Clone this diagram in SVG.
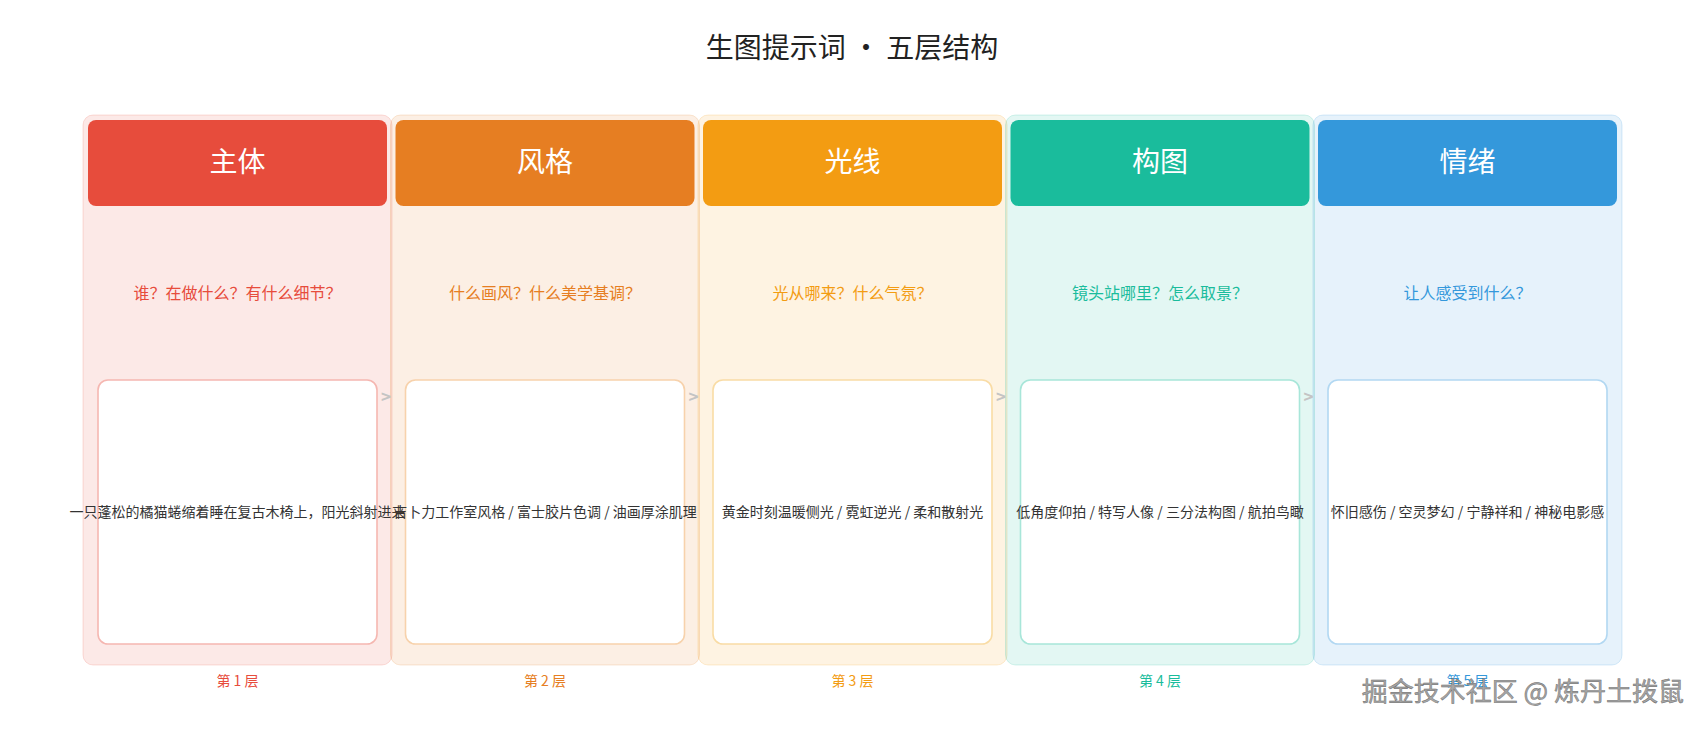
<svg xmlns="http://www.w3.org/2000/svg" width="1705" height="730" viewBox="0 0 1705 730">
<style>
text{font-family:"Noto Sans CJK SC","Noto Sans",sans-serif;text-anchor:middle;}
.title{font-size:28px;fill:#222;}
.head{font-size:28px;fill:#fff;}
.q{font-size:16px;}
.body{font-size:14px;fill:#333;}
.lvl{font-size:14px;}
.arrow{font-size:17px;font-weight:bold;fill:#c4c4c4;}
.box{fill:#fff;stroke-width:1.6;}
.panel{fill-opacity:0.12;stroke-opacity:0.18;stroke-width:1;}
.wm{font-size:26px;fill:#a6a6a6;stroke:#6a6a6a;stroke-width:0.45;text-anchor:end;}
</style>
<rect width="1705" height="730" fill="#fff"/>
<text class="title" x="852" y="58">生图提示词 · 五层结构</text>

<g id="layer1">
<rect class="panel" x="83" y="115" width="309" height="550" rx="10" fill="#e74c3c" stroke="#e74c3c"/>
<rect x="88" y="120" width="299" height="86" rx="8" fill="#e74c3c"/>
<text class="head" x="237.5" y="172">主体</text>
<text class="q" x="237.5" y="299" fill="#e74c3c">谁？在做什么？有什么细节？</text>
<rect class="box" x="98" y="380" width="279" height="264" rx="10" stroke="#f5b7b1"/>
<text class="body" x="237.5" y="517">一只蓬松的橘猫蜷缩着睡在复古木椅上，阳光斜射进来</text>
<text class="lvl" x="237.5" y="686" fill="#e74c3c">第 1 层</text>
</g>

<g id="layer2">
<rect class="panel" x="390.5" y="115" width="309" height="550" rx="10" fill="#e67e22" stroke="#e67e22"/>
<rect x="395.5" y="120" width="299" height="86" rx="8" fill="#e67e22"/>
<text class="head" x="545" y="172">风格</text>
<text class="q" x="545" y="299" fill="#e67e22">什么画风？什么美学基调？</text>
<rect class="box" x="405.5" y="380" width="279" height="264" rx="10" stroke="#f7d2ac"/>
<text class="body" x="545" y="517">吉卜力工作室风格 / 富士胶片色调 / 油画厚涂肌理</text>
<text class="lvl" x="545" y="686" fill="#e67e22">第 2 层</text>
</g>

<g id="layer3">
<rect class="panel" x="698" y="115" width="309" height="550" rx="10" fill="#f39c12" stroke="#f39c12"/>
<rect x="703" y="120" width="299" height="86" rx="8" fill="#f39c12"/>
<text class="head" x="852.5" y="172">光线</text>
<text class="q" x="852.5" y="299" fill="#f39c12">光从哪来？什么气氛？</text>
<rect class="box" x="713" y="380" width="279" height="264" rx="10" stroke="#f9dca5"/>
<text class="body" x="852.5" y="517">黄金时刻温暖侧光 / 霓虹逆光 / 柔和散射光</text>
<text class="lvl" x="852.5" y="686" fill="#f39c12">第 3 层</text>
</g>

<g id="layer4">
<rect class="panel" x="1005.5" y="115" width="309" height="550" rx="10" fill="#1abc9c" stroke="#1abc9c"/>
<rect x="1010.5" y="120" width="299" height="86" rx="8" fill="#1abc9c"/>
<text class="head" x="1160" y="172">构图</text>
<text class="q" x="1160" y="299" fill="#1abc9c">镜头站哪里？怎么取景？</text>
<rect class="box" x="1020.5" y="380" width="279" height="264" rx="10" stroke="#a8e6d9"/>
<text class="body" x="1160" y="517">低角度仰拍 / 特写人像 / 三分法构图 / 航拍鸟瞰</text>
<text class="lvl" x="1160" y="686" fill="#1abc9c">第 4 层</text>
</g>

<g id="layer5">
<rect class="panel" x="1313" y="115" width="309" height="550" rx="10" fill="#3498db" stroke="#3498db"/>
<rect x="1318" y="120" width="299" height="86" rx="8" fill="#3498db"/>
<text class="head" x="1467.5" y="172">情绪</text>
<text class="q" x="1467.5" y="299" fill="#3498db">让人感受到什么？</text>
<rect class="box" x="1328" y="380" width="279" height="264" rx="10" stroke="#b2d8f2"/>
<text class="body" x="1467.5" y="517">怀旧感伤 / 空灵梦幻 / 宁静祥和 / 神秘电影感</text>
<text class="lvl" x="1467.5" y="686" fill="#3498db">第 5 层</text>
</g>

<g id="connectors">
<text class="arrow" x="386" y="403">&gt;</text>
<text class="arrow" x="693.5" y="403">&gt;</text>
<text class="arrow" x="1001" y="403">&gt;</text>
<text class="arrow" x="1308.5" y="403">&gt;</text>
</g>

<text class="wm" x="1684" y="701">掘金技术社区 @ 炼丹土拨鼠</text>
</svg>
